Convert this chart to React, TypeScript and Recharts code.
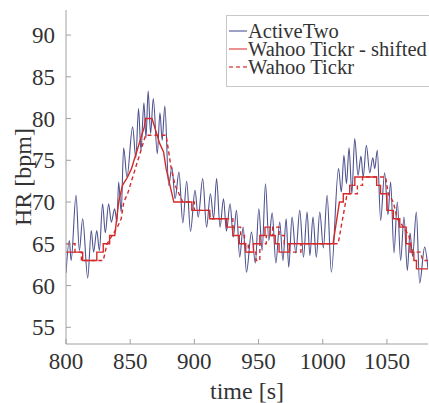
import React from 'react';
import { LineChart, Line, XAxis, YAxis } from 'recharts';

// ---------- data (time [s], HR [bpm]) ----------
const activeTwo: number[][] = [
  [800, 61.5], [802.6, 65.4], [804, 63], [807.8, 70.8], [810.4, 64.2], [813, 68], [816.9, 60.9],
  [819.7, 66.6], [821.5, 64], [824, 66.6], [826, 64.2], [828.5, 69.8], [830.6, 66.3], [833.2, 69.8],
  [835.3, 67.6], [837.9, 69.2], [839.7, 67.6], [841, 72.4], [843, 68.8], [844.9, 76.5], [847.5, 73],
  [851.9, 79], [854.4, 75.3], [856.5, 81.2], [858.4, 76.2], [860.7, 81.9], [862.3, 77.7], [864, 83.3],
  [865.9, 78.2], [868, 82.4], [871.1, 75.8], [873.2, 80.7], [874.9, 77.4], [877, 81.5], [880, 72],
  [882.5, 74.2], [885, 70.4], [888, 73.6], [891, 67.5], [894, 72.5], [897, 66.5], [900.5, 71.4],
  [903, 68.2], [906.5, 72.8], [909.5, 67], [912.5, 71], [915, 68], [917.3, 72.8], [920, 67],
  [922.7, 70.4], [925, 66.5], [927.8, 69.8], [930.3, 65.8], [932.8, 69], [935.3, 63.4], [938, 67],
  [940.6, 61.6], [944.5, 66.4], [947.5, 62.7], [950.2, 69.2], [952.8, 64.2], [955.4, 72.2],
  [958, 65.4], [960.6, 68.7], [963.5, 62.7], [966.5, 67.6], [969, 63], [971.5, 68], [973.5, 62.2],
  [976.1, 68.2], [979, 63.9], [982.1, 69], [985, 63.4], [987.8, 68.8], [990, 63.6], [992.4, 68.2],
  [995, 63.4], [997.7, 68.8], [1000.5, 64.5], [1003.4, 70.8], [1006.7, 61.6], [1012.3, 74],
  [1014.5, 71.2], [1016.5, 75.6], [1018.5, 72.2], [1020.5, 76.5], [1022.7, 71], [1024.9, 77.6],
  [1027.5, 73.2], [1029.8, 75.5], [1031.5, 73], [1034, 76.8], [1036.6, 73.5], [1039, 75.3],
  [1040.5, 74], [1042.5, 76.2], [1045.1, 67.8], [1048.2, 73.5], [1050.8, 68.5], [1052.9, 72.4],
  [1055.5, 63.9], [1058.1, 70], [1060.7, 63], [1063.3, 68.2], [1065.9, 61.8], [1068, 66.3],
  [1070, 63.5], [1072.9, 68.8], [1075.5, 60.3], [1079.4, 64.6], [1082, 62],
];

const tickrShifted: number[][] = [
  [800, 64], [813, 64], [813, 63], [824, 63], [824, 64], [829, 64], [829, 65], [834, 65], [834, 66],
  [838, 66], [841, 70], [844, 72], [848, 73], [851, 74], [853, 75], [855, 76], [857, 77], [859, 78],
  [861, 79], [862, 80], [867, 80], [869, 79], [871, 78], [873, 77], [876, 76], [878, 74], [881, 72],
  [884, 70], [898, 70], [898, 69], [912, 69], [912, 68], [925, 68], [925, 67], [930, 67], [930, 66],
  [935, 66], [935, 65], [940, 65], [940, 64], [946, 64], [946, 65], [951, 65], [951, 66], [955, 66],
  [955, 67], [959, 67], [959, 66], [963, 66], [963, 65], [966, 65], [966, 64], [974, 64], [974, 65],
  [1008, 65], [1013, 70], [1016, 70], [1016, 71], [1021, 71], [1021, 72], [1025, 72], [1025, 73],
  [1042, 73], [1042, 72], [1045, 72], [1045, 71], [1050, 71], [1050, 69], [1055, 69], [1055, 68],
  [1060, 68], [1060, 67], [1065, 67], [1065, 65], [1068, 65], [1068, 64], [1071, 64], [1071, 63],
  [1073, 63], [1073, 62], [1082, 62],
];

const tickr: number[][] = [
  [800, 65], [807, 65], [807, 64], [812, 64], [812, 63], [829, 63], [832, 65], [836, 66], [840, 67],
  [843, 68], [845, 70], [848, 71], [850, 72], [852, 73], [854, 74], [856, 75], [858, 76], [860, 77],
  [862, 78], [878, 78], [880, 76], [882, 74], [885, 72], [888, 71], [891, 70], [900, 70], [900, 69],
  [912, 69], [912, 68], [930, 68], [930, 67], [936, 67], [936, 66], [939, 66], [939, 65], [942, 65],
  [942, 64], [948, 64], [948, 63], [951, 63], [951, 65], [956, 65], [956, 66], [961, 66], [961, 67],
  [966, 67], [966, 66], [970, 66], [970, 65], [974, 65], [974, 64], [983, 64], [983, 65], [1012, 65],
  [1019, 71], [1027, 71], [1027, 72], [1031, 72], [1031, 73], [1049, 73], [1051, 71], [1055, 70],
  [1058, 68], [1063, 67], [1067, 66], [1070, 64], [1076, 64], [1078, 63], [1082, 63],
];

const seriesNames = ['ActiveTwo', 'Wahoo Tickr - shifted', 'Wahoo Tickr'];
const xTicks = [800, 850, 900, 950, 1000, 1050];
const yTicks = [55, 60, 65, 70, 75, 80, 85, 90];
const xDomain = [800, 1082];
const yDomain = [53, 93];

const toPoints = (arr: number[][]) => arr.map(([t, v]) => ({ t, v }));

const FONT = "'Liberation Serif', 'DejaVu Serif', serif";
const BLUE = '#4f528f';
const RED = '#d42a2a';
const AXIS = '#a0a0a0';
const TEXT = '#333333';

const legendItems = [
  { name: seriesNames[0], color: '#6a6fa8', dash: undefined as string | undefined },
  { name: seriesNames[1], color: '#e05555', dash: undefined as string | undefined },
  { name: seriesNames[2], color: '#e05555', dash: '4 3' },
];

export default function App() {
  return (
    <div style={{ position: 'absolute', left: 0, top: 0, width: 429, height: 403, background: '#fff', overflow: 'hidden', fontFamily: FONT }}>
      <LineChart
        width={429}
        height={403}
        margin={{ top: 10, right: 1, left: 0, bottom: 0 }}
        style={{ fontFamily: FONT }}
      >
        <XAxis
          dataKey="t"
          type="number"
          domain={xDomain}
          ticks={xTicks}
          allowDataOverflow
          height={59}
          stroke={AXIS}
          tickSize={-5}
          tickMargin={14}
          tick={{ fill: TEXT, fontSize: 23, fontFamily: FONT }}
          label={() => (
            <text x={247} y={399} textAnchor="middle" fill={TEXT} fontSize={24} style={{ fontFamily: FONT }}>
              time [s]
            </text>
          )}
        />
        <YAxis
          dataKey="v"
          type="number"
          domain={yDomain}
          ticks={yTicks}
          allowDataOverflow
          width={66}
          stroke={AXIS}
          tickSize={-5}
          tickMargin={16}
          tick={{ fill: TEXT, fontSize: 23, fontFamily: FONT }}
          label={() => (
            <text
              x={31}
              y={177}
              textAnchor="middle"
              fill={TEXT}
              fontSize={24}
              style={{ fontFamily: FONT }}
              transform="rotate(-90 31 177)"
            >
              HR [bpm]
            </text>
          )}
        />
        <Line
          data={toPoints(activeTwo)}
          dataKey="v"
          name={seriesNames[0]}
          type="monotone"
          stroke={BLUE}
          strokeWidth={1.1}
          dot={false}
          isAnimationActive={false}
        />
        <Line
          data={toPoints(tickr)}
          dataKey="v"
          name={seriesNames[2]}
          type="linear"
          stroke={RED}
          strokeWidth={1.4}
          strokeDasharray="4 3"
          dot={false}
          isAnimationActive={false}
        />
        <Line
          data={toPoints(tickrShifted)}
          dataKey="v"
          name={seriesNames[1]}
          type="linear"
          stroke={RED}
          strokeWidth={1.4}
          dot={false}
          isAnimationActive={false}
        />
      </LineChart>
      <div
        style={{
          position: 'absolute',
          left: 226,
          top: 15,
          width: 210,
          height: 72,
          border: '1px solid #c8c8c8',
          background: '#fff',
          fontFamily: FONT,
          fontSize: 20.5,
          color: TEXT,
          boxSizing: 'border-box',
          paddingTop: 6,
        }}
      >
        {legendItems.map((it) => (
          <div key={it.name} style={{ display: 'flex', alignItems: 'center', height: 18, lineHeight: '18px', whiteSpace: 'nowrap' }}>
            <svg width={21} height={18} style={{ flex: 'none' }}>
              <line x1={2} x2={20} y1={9} y2={9} stroke={it.color} strokeWidth={1.3} strokeDasharray={it.dash} />
            </svg>
            <span style={{ display: 'inline-block', height: 18, lineHeight: '18px', overflow: 'visible' }}>{it.name}</span>
          </div>
        ))}
      </div>
    </div>
  );
}
